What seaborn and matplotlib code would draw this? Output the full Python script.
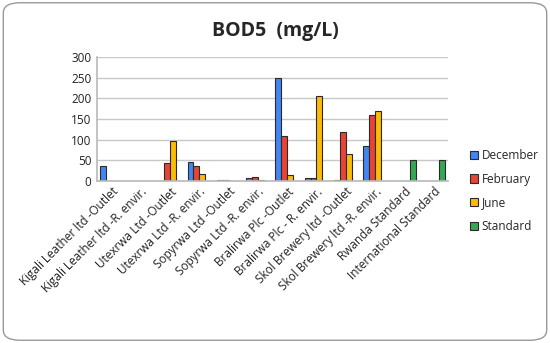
import numpy as np
import pandas as pd
import seaborn as sns
import matplotlib
matplotlib.use("Agg")
import matplotlib.pyplot as plt
from matplotlib.patches import FancyBboxPatch

categories = ["Kigali Leather ltd -Outlet", "Kigali Leather ltd -R. envir.",
              "Utexrwa Ltd -Outlet", "Utexrwa Ltd -R. envir.",
              "Sopyrwa Ltd -Outlet", "Sopyrwa Ltd -R. envir.",
              "Bralirwa Plc -Outlet", "Bralirwa Plc - R. envir.",
              "Skol Brewery ltd -Outlet", "Skol Brewery ltd -R. envir.",
              "Rwanda Standard", "International Standard"]
series = ["December", "February", "June", "Standard"]
december = [37, np.nan, np.nan, 46, 2, 8, 249, 8, 2, 85, np.nan, np.nan]
february = [np.nan, np.nan, 44, 37, 2, 9, 109, 8, 118, 159, np.nan, np.nan]
june = [np.nan, np.nan, 98, 18, 1, 2, 14, 205, 65, 169, np.nan, np.nan]
standard = [np.nan] * 10 + [50, 50]
colors = ["#4285F4", "#EA4335", "#FBBC05", "#34A853"]

rows = []
for name, vals in zip(series, [december, february, june, standard]):
    for c, v in zip(categories, vals):
        rows.append({"cat": c, "series": name, "value": v})
df = pd.DataFrame(rows)

sns.set_theme(style="white")
plt.rcParams["font.family"] = ["Open Sans", "DejaVu Sans"]

fig = plt.figure(figsize=(5.5, 3.43), dpi=100)
ax = fig.add_axes([0.176, 0.472, 0.639, 0.362])
sns.barplot(data=df, x="cat", y="value", hue="series", order=categories,
            hue_order=series, palette=colors, saturation=1, ax=ax, width=0.8,
            edgecolor="#2a2a2a", linewidth=0.8, legend=True)

ax.set_ylim(0, 300)
ax.set_yticks(range(0, 301, 50))
ax.yaxis.grid(True, color="#c8c8c8", linewidth=1)
ax.set_axisbelow(True)
ax.set_xlabel("")
ax.set_ylabel("")
for s in ["top", "right"]:
    ax.spines[s].set_visible(False)
ax.spines["left"].set_color("#bbbbbb")
ax.spines["bottom"].set_color("#bbbbbb")
ax.tick_params(axis="y", length=0, labelsize=8.5, colors="#222222", pad=4)
ax.tick_params(axis="x", length=0, labelsize=8.5, colors="#222222", pad=3)
ax.set_xlim(-0.5, len(categories) - 0.5)
for lab in ax.get_xticklabels():
    lab.set_rotation(45)
    lab.set_ha("right")
    lab.set_rotation_mode("anchor")

handles, labels = ax.get_legend_handles_labels()
ax.get_legend().remove()
fig.legend(handles, labels, loc="center left", bbox_to_anchor=(0.835, 0.443),
           frameon=False, fontsize=8.5, handlelength=0.7, handleheight=0.7,
           handletextpad=0.3, labelspacing=0.9)

fig.suptitle("BOD5  (mg/L)", fontsize=14, fontweight="bold", y=0.94, x=0.5)

border = FancyBboxPatch((0.006, 0.008), 0.988, 0.984,
                        boxstyle="round,pad=0,rounding_size=0.03",
                        transform=fig.transFigure, fill=False,
                        edgecolor="#999999", linewidth=1)
fig.patches.append(border)

fig.savefig("out.png", dpi=100)
